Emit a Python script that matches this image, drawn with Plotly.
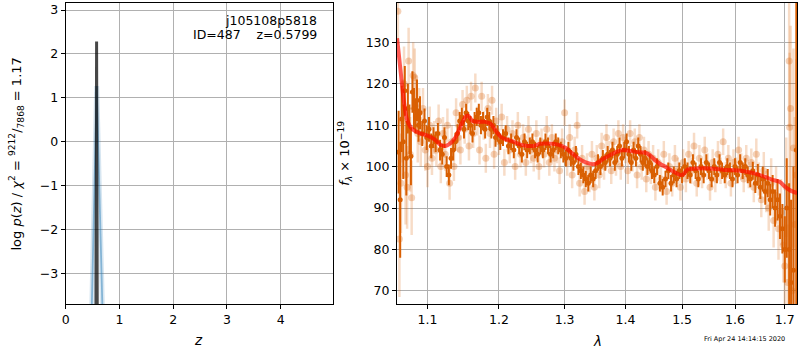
import plotly.graph_objects as go

# ---------------- data ----------------
# left panel: log p(z)
z_pz = [0.562, 0.575, 0.588]
logp_pz = [-4.2, 2.28, -4.2]
z_tmpl = [0.478, 0.577, 0.692]
logp_tmpl = [-4.2, 1.27, -4.2]

x_ticks_left = [0, 1, 2, 3, 4]
y_ticks_left = [-3, -2, -1, 0, 1, 2, 3]

# right panel: spectrum (dark = primary, light = secondary)
lam_dark = [1.062, 1.064, 1.066, 1.068, 1.070, 1.072, 1.074, 1.076, 1.078, 1.080,
            1.082, 1.084, 1.086, 1.088, 1.090, 1.093, 1.096, 1.099, 1.102, 1.105,
            1.108, 1.111, 1.114, 1.117, 1.120, 1.123, 1.126, 1.129, 1.132, 1.135,
            1.138, 1.141, 1.144, 1.147, 1.150, 1.153, 1.156, 1.159, 1.162, 1.165,
            1.168, 1.171, 1.174, 1.177, 1.180, 1.183, 1.186, 1.189, 1.192, 1.195,
            1.198, 1.202, 1.206, 1.210, 1.214, 1.218, 1.222, 1.226, 1.230, 1.234,
            1.238, 1.242, 1.246, 1.250, 1.254, 1.258, 1.262, 1.266, 1.270, 1.274,
            1.278, 1.282, 1.286, 1.290, 1.294, 1.298, 1.302, 1.306, 1.310, 1.314,
            1.318, 1.322, 1.326, 1.330, 1.334, 1.338, 1.342, 1.346, 1.350, 1.354,
            1.358, 1.362, 1.366, 1.370, 1.374, 1.378, 1.382, 1.386, 1.390, 1.394,
            1.398, 1.402, 1.406, 1.410, 1.414, 1.418, 1.422, 1.426, 1.430, 1.434,
            1.438, 1.442, 1.446, 1.450, 1.455, 1.460, 1.465, 1.470, 1.475, 1.480,
            1.485, 1.490, 1.495, 1.500, 1.505, 1.510, 1.515, 1.520, 1.525, 1.530,
            1.535, 1.540, 1.545, 1.550, 1.555, 1.560, 1.565, 1.570, 1.575, 1.580,
            1.585, 1.590, 1.595, 1.600, 1.605, 1.610, 1.615, 1.620, 1.625, 1.630,
            1.635, 1.640, 1.645, 1.650, 1.655, 1.660, 1.665, 1.670, 1.675, 1.680,
            1.685, 1.690, 1.695, 1.700, 1.704, 1.709, 1.713, 1.718, 1.724]
f_dark = [103.5, 92.0, 111.5, 106.0, 118.3, 102.0, 114.0, 109.0, 102.5, 118.0,
          114.0, 112.0, 116.0, 110.0, 113.0, 108.0, 111.0, 107.0, 109.0, 105.0,
          107.0, 106.0, 108.0, 104.0, 103.0, 107.0, 100.0, 98.0, 102.0, 104.0,
          106.0, 108.0, 111.0, 112.0, 109.0, 113.0, 111.0, 110.0, 108.0, 111.0,
          112.0, 113.0, 110.0, 111.0, 109.0, 112.0, 111.0, 109.0, 110.0, 107.0,
          108.0, 106.0, 107.0, 108.0, 105.0, 106.0, 104.0, 107.0, 105.0, 103.0,
          106.0, 104.0, 105.0, 106.0, 104.0, 103.0, 105.0, 104.0, 106.0, 105.0,
          103.0, 104.0, 106.0, 105.0, 104.0, 103.0, 102.0, 104.0, 102.0, 101.0,
          103.0, 100.0, 99.0, 98.0, 97.0, 96.0, 98.0, 97.0, 99.0, 101.0,
          100.0, 102.0, 101.0, 103.0, 102.0, 104.0, 101.0, 103.0, 105.0, 102.0,
          104.0, 106.0, 103.0, 101.0, 104.0, 102.0, 105.0, 103.0, 101.0, 102.0,
          100.0, 101.0, 99.0, 98.0, 100.0, 96.0, 95.0, 97.0, 99.0, 96.0,
          98.0, 97.0, 99.0, 98.0, 100.0, 99.0, 98.0, 101.0, 99.0, 97.0,
          100.0, 98.0, 101.0, 99.0, 97.0, 100.0, 98.0, 101.0, 99.0, 98.0,
          100.0, 99.0, 97.0, 100.0, 98.0, 101.0, 99.0, 100.0, 98.0, 97.0,
          99.0, 96.0, 98.0, 95.0, 97.0, 94.0, 96.0, 92.0, 94.0, 90.0,
          92.0, 88.0, 85.0, 80.0, 90.0, 80.0, 72.0, 75.0, 104.0]
e_dark = [10.0, 14.0, 8.0, 9.0, 6.0, 9.0, 6.0, 6.0, 7.0, 5.0,
          5.0, 4.0, 5.0, 4.0, 4.0, 3.0, 3.0, 3.0, 3.0, 3.0,
          2.5, 2.5, 2.5, 2.5, 2.5, 2.5, 2.5, 2.5, 2.5, 2.5,
          2.2, 2.2, 2.2, 2.2, 2.2, 2.2, 2.2, 2.2, 2.2, 2.2,
          2.2, 2.2, 2.2, 2.2, 2.2, 2.2, 2.2, 2.2, 2.2, 2.2,
          2.0, 2.0, 2.0, 2.0, 2.0, 2.0, 2.0, 2.0, 2.0, 2.0,
          2.0, 2.0, 2.0, 2.0, 2.0, 2.0, 2.0, 2.0, 2.0, 2.0,
          2.0, 2.0, 2.0, 2.0, 2.0, 2.0, 2.0, 2.0, 2.0, 2.0,
          2.0, 2.0, 2.0, 2.0, 2.0, 2.0, 2.0, 2.0, 2.0, 2.0,
          2.0, 2.0, 2.0, 2.0, 2.0, 2.0, 2.0, 2.0, 2.0, 2.0,
          2.0, 2.0, 2.0, 2.0, 2.0, 2.0, 2.0, 2.0, 2.0, 2.0,
          2.0, 2.0, 2.0, 2.0, 2.0, 2.0, 2.0, 2.0, 2.0, 2.0,
          2.0, 2.0, 2.0, 2.0, 2.0, 2.0, 2.0, 2.0, 2.0, 2.0,
          2.0, 2.0, 2.0, 2.0, 2.0, 2.0, 2.0, 2.0, 2.0, 2.0,
          2.0, 2.0, 2.0, 2.0, 2.0, 2.0, 2.0, 2.0, 2.0, 2.0,
          2.2, 2.4, 2.6, 2.8, 3.0, 3.2, 3.4, 3.8, 4.0, 4.5,
          5.0, 5.5, 6.0, 8.0, 12.0, 16.0, 20.0, 25.0, 40.0]

lam_light = [1.061, 1.063, 1.065, 1.067, 1.069, 1.071, 1.073, 1.075, 1.077, 1.079,
             1.081, 1.083, 1.085, 1.087, 1.089, 1.091, 1.094, 1.097, 1.100, 1.103,
             1.106, 1.109, 1.112, 1.115, 1.118, 1.121, 1.124, 1.127, 1.130, 1.133,
             1.136, 1.139, 1.142, 1.145, 1.148, 1.151, 1.154, 1.157, 1.160, 1.163,
             1.166, 1.169, 1.172, 1.175, 1.178, 1.181, 1.184, 1.187, 1.190, 1.193,
             1.196, 1.200, 1.204, 1.208, 1.212, 1.216, 1.220, 1.224, 1.228, 1.232,
             1.236, 1.240, 1.244, 1.248, 1.252, 1.256, 1.260, 1.264, 1.268, 1.272,
             1.276, 1.280, 1.284, 1.288, 1.292, 1.296, 1.300, 1.304, 1.308, 1.312,
             1.316, 1.320, 1.324, 1.328, 1.332, 1.336, 1.340, 1.344, 1.348, 1.352,
             1.356, 1.360, 1.364, 1.368, 1.372, 1.376, 1.380, 1.384, 1.388, 1.392,
             1.396, 1.400, 1.404, 1.408, 1.412, 1.416, 1.420, 1.424, 1.428, 1.432,
             1.436, 1.440, 1.444, 1.448, 1.452, 1.457, 1.462, 1.467, 1.472, 1.477,
             1.482, 1.487, 1.492, 1.497, 1.502, 1.507, 1.512, 1.517, 1.522, 1.527,
             1.532, 1.537, 1.542, 1.547, 1.552, 1.557, 1.562, 1.567, 1.572, 1.577,
             1.582, 1.587, 1.592, 1.597, 1.602, 1.607, 1.612, 1.617, 1.622, 1.627,
             1.632, 1.637, 1.642, 1.647, 1.652, 1.657, 1.662, 1.667, 1.672, 1.677,
             1.682, 1.687, 1.692, 1.697, 1.700, 1.703, 1.706, 1.709, 1.710, 1.712,
             1.715, 1.718, 1.721, 1.724]
f_light = [137.5, 82.5, 96.0, 111.0, 120.0, 98.0, 95.0, 125.5, 103.0, 92.5,
           122.0, 121.5, 115.0, 108.0, 113.0, 106.0, 114.0, 104.0, 100.0, 110.0,
           102.0, 107.0, 104.0, 111.0, 100.0, 108.0, 103.0, 110.0, 96.0, 106.0,
           100.0, 113.0, 107.0, 104.0, 115.0, 109.0, 116.0, 105.0, 117.0, 108.0,
           119.0, 111.0, 104.0, 117.0, 110.0, 102.0, 114.0, 108.0, 116.0, 103.0,
           111.0, 106.0, 112.0, 101.0, 109.0, 104.0, 108.0, 100.0, 110.0, 103.0,
           107.0, 101.0, 109.0, 104.0, 102.0, 108.0, 100.0, 106.0, 103.0, 109.0,
           101.0, 107.0, 102.0, 104.0, 99.0, 106.0, 113.0, 101.0, 107.0, 98.0,
           104.0, 110.0, 96.0, 102.0, 94.0, 100.0, 97.0, 103.0, 95.0, 102.0,
           98.0, 105.0, 100.0, 107.0, 103.0, 99.0, 106.0, 101.0, 108.0, 100.0,
           107.0, 104.0, 99.0, 108.0, 102.0, 106.0, 98.0, 107.0, 100.0, 104.0,
           97.0, 103.0, 99.0, 102.0, 95.0, 101.0, 97.0, 103.0, 94.0, 100.0,
           96.0, 102.0, 99.0, 95.0, 101.0, 97.0, 103.0, 99.0, 105.0, 96.0,
           102.0, 98.0, 104.0, 100.0, 95.0, 101.0, 97.0, 103.0, 99.0, 106.0,
           98.0, 102.0, 96.0, 101.0, 99.0, 104.0, 100.0, 97.0, 102.0, 98.0,
           101.0, 95.0, 103.0, 97.0, 92.0, 99.0, 94.0, 90.0, 96.0, 87.0,
           93.0, 85.0, 89.0, 81.0, 76.0, 95.0, 72.0, 125.5, 109.5, 114.0,
           70.0, 104.5, 86.0, 98.0]
e_light = [8.0, 14.0, 12.0, 10.0, 9.0, 12.0, 10.0, 8.0, 9.0, 9.0,
           8.0, 7.0, 7.0, 7.0, 6.0, 6.0, 5.0, 5.0, 5.0, 4.5,
           4.0, 4.0, 4.0, 4.0, 4.0, 4.0, 4.0, 4.0, 4.0, 4.0,
           3.5, 3.5, 3.5, 3.5, 3.5, 3.5, 3.5, 3.5, 3.5, 3.5,
           3.5, 3.5, 3.5, 3.5, 3.5, 3.5, 3.5, 3.5, 3.5, 3.5,
           3.2, 3.2, 3.2, 3.2, 3.2, 3.2, 3.2, 3.2, 3.2, 3.2,
           3.2, 3.2, 3.2, 3.2, 3.2, 3.2, 3.2, 3.2, 3.2, 3.2,
           3.2, 3.2, 3.2, 3.2, 3.2, 3.2, 3.2, 3.2, 3.2, 3.2,
           3.2, 3.2, 3.2, 3.2, 3.2, 3.2, 3.2, 3.2, 3.2, 3.2,
           3.2, 3.2, 3.2, 3.2, 3.2, 3.2, 3.2, 3.2, 3.2, 3.2,
           3.2, 3.2, 3.2, 3.2, 3.2, 3.2, 3.2, 3.2, 3.2, 3.2,
           3.2, 3.2, 3.2, 3.2, 3.2, 3.2, 3.2, 3.2, 3.2, 3.2,
           3.2, 3.2, 3.2, 3.2, 3.2, 3.2, 3.2, 3.2, 3.2, 3.2,
           3.2, 3.2, 3.2, 3.2, 3.2, 3.2, 3.2, 3.2, 3.2, 3.2,
           3.2, 3.2, 3.2, 3.2, 3.2, 3.2, 3.2, 3.2, 3.2, 3.2,
           3.4, 3.6, 3.8, 4.0, 4.2, 4.5, 5.0, 5.5, 6.0, 6.5,
           7.0, 7.5, 8.0, 9.0, 10.0, 12.0, 14.0, 16.0, 18.0, 20.0,
           22.0, 24.0, 26.0, 28.0]

lam_model = [1.060, 1.064, 1.068, 1.072, 1.076, 1.080, 1.090, 1.100, 1.110, 1.118,
             1.124, 1.130, 1.138, 1.146, 1.152, 1.156, 1.162, 1.170, 1.180, 1.188,
             1.196, 1.204, 1.212, 1.222, 1.232, 1.242, 1.252, 1.262, 1.272, 1.282,
             1.292, 1.302, 1.312, 1.322, 1.334, 1.344, 1.352, 1.362, 1.372, 1.384,
             1.396, 1.408, 1.420, 1.432, 1.442, 1.452, 1.462, 1.472, 1.484, 1.496,
             1.502, 1.510, 1.520, 1.540, 1.560, 1.580, 1.600, 1.620, 1.640, 1.660,
             1.675, 1.690, 1.700, 1.712, 1.726]
f_model = [131.0, 124.0, 117.0, 112.0, 110.0, 109.0, 108.0, 107.5, 106.5, 105.2,
           105.0, 105.5, 107.0, 110.0, 112.0, 112.3, 111.0, 110.8, 110.8, 110.3,
           108.5, 107.0, 106.5, 106.0, 105.3, 105.0, 105.0, 105.5, 105.6, 105.5,
           105.2, 104.5, 103.2, 102.0, 101.0, 100.6, 100.8, 101.8, 102.6, 103.5,
           104.0, 103.8, 103.5, 103.4, 102.8, 101.5, 100.5, 99.8, 98.8, 98.0,
           98.1, 99.3, 99.5, 99.6, 99.5, 99.2, 99.1, 98.8, 98.3, 97.5,
           96.8, 96.3, 95.2, 94.2, 93.6]

x_ticks_right = [1.1, 1.2, 1.3, 1.4, 1.5, 1.6, 1.7]
y_ticks_right = [70, 80, 90, 100, 110, 120, 130]

# ---------------- figure ----------------
ORANGE = "rgb(217,95,2)"
FONT = "DejaVu Sans"
W, H = 800, 350

fig = go.Figure()

# left panel
fig.add_trace(go.Scatter(x=z_tmpl, y=logp_tmpl, mode="lines",
                         line=dict(color="rgba(31,119,180,0.18)", width=5),
                         xaxis="x", yaxis="y", showlegend=False, hoverinfo="skip"))
fig.add_trace(go.Scatter(x=z_tmpl, y=logp_tmpl, mode="lines",
                         line=dict(color="rgba(31,119,180,0.45)", width=1.8),
                         xaxis="x", yaxis="y", showlegend=False))
fig.add_trace(go.Scatter(x=z_pz, y=logp_pz, mode="lines",
                         line=dict(color="rgba(0,0,0,0.72)", width=3),
                         xaxis="x", yaxis="y", showlegend=False))

# right panel
fig.add_trace(go.Scatter(x=lam_light, y=f_light, mode="markers",
                         marker=dict(color="rgba(217,95,2,0.28)", size=7, line=dict(width=0)),
                         error_y=dict(type="data", array=e_light, color="rgba(217,95,2,0.22)",
                                      thickness=2.5, width=0),
                         xaxis="x2", yaxis="y2", showlegend=False))
fig.add_trace(go.Scatter(x=lam_dark, y=f_dark, mode="markers",
                         marker=dict(color=ORANGE, size=5, line=dict(width=0)),
                         error_y=dict(type="data", array=e_dark, color=ORANGE,
                                      thickness=2, width=0),
                         xaxis="x2", yaxis="y2", showlegend=False))
fig.add_trace(go.Scatter(x=lam_model, y=f_model, mode="lines",
                         line=dict(color="rgba(255,10,0,0.68)", width=4, shape="spline",
                                   smoothing=0.6),
                         xaxis="x2", yaxis="y2", showlegend=False))

ax_common = dict(showgrid=True, gridcolor="#b0b0b0", gridwidth=1, zeroline=False,
                 showline=True, linecolor="black", linewidth=1, mirror=True,
                 ticks="outside", ticklen=4, tickcolor="black", tickwidth=1,
                 tickfont=dict(family=FONT, size=12.5, color="black"))

y_dom = [1 - 304 / H, 1 - 2 / H]
fig.update_layout(
    width=W, height=H, margin=dict(l=0, r=0, t=0, b=0),
    paper_bgcolor="white", plot_bgcolor="white",
    font=dict(family=FONT, size=12.5, color="black"),
    xaxis=dict(domain=[62 / W, 331 / W], range=[0, 4.98], tickvals=x_ticks_left,
               anchor="y", **ax_common),
    yaxis=dict(domain=y_dom, range=[-3.70, 3.16], tickvals=y_ticks_left,
               ticktext=[str(v).replace("-", "\u2212") for v in y_ticks_left],
               anchor="x", **ax_common),
    xaxis2=dict(domain=[395 / W, 797 / W], type="log", range=[0.02527, 0.23691],
                tickvals=x_ticks_right, ticktext=[f"{v:.1f}" for v in x_ticks_right],
                anchor="y2", **ax_common),
    yaxis2=dict(domain=y_dom, range=[66.8, 139.5], tickvals=y_ticks_right,
                anchor="x2", **ax_common),
)

ann = [
    dict(text="j105108p5818", x=317 / W, y=1 - 20 / H, xanchor="right", yanchor="middle",
         font=dict(size=12.5)),
    dict(text="ID=487    z=0.5799", x=317 / W, y=1 - 34 / H, xanchor="right",
         yanchor="middle", font=dict(size=12.5)),
    dict(text="<i>z</i>", x=195 / W, y=1 - 340 / H, xanchor="center", yanchor="middle",
         font=dict(size=13.5)),
    dict(text="<i>λ</i>", x=596 / W, y=1 - 341 / H, xanchor="center", yanchor="middle",
         font=dict(size=13.5)),
    dict(text="log <i>p</i>(<i>z</i>) / <i>χ</i><sup>2</sup> = <sup>9212</sup>/<sub>7868</sub> = 1.17",
         x=12 / W, y=1 - 153 / H, xanchor="center", yanchor="middle", textangle=-90,
         font=dict(size=13)),
    dict(text="<i>f</i><sub><i>λ</i></sub> × 10<sup>−19</sup>",
         x=342 / W, y=1 - 153 / H, xanchor="center", yanchor="middle", textangle=-90,
         font=dict(size=13)),
    dict(text="Fri Apr 24 14:14:15 2020", x=744 / W, y=1 - 339 / H, xanchor="center",
         yanchor="middle", font=dict(size=6.5)),
]
for a in ann:
    a.update(xref="paper", yref="paper", showarrow=False)
fig.update_layout(annotations=ann)

fig.write_html("out.html", config={"displayModeBar": False},
               post_script="document.body.style.margin='0';document.body.style.overflow='hidden';")
